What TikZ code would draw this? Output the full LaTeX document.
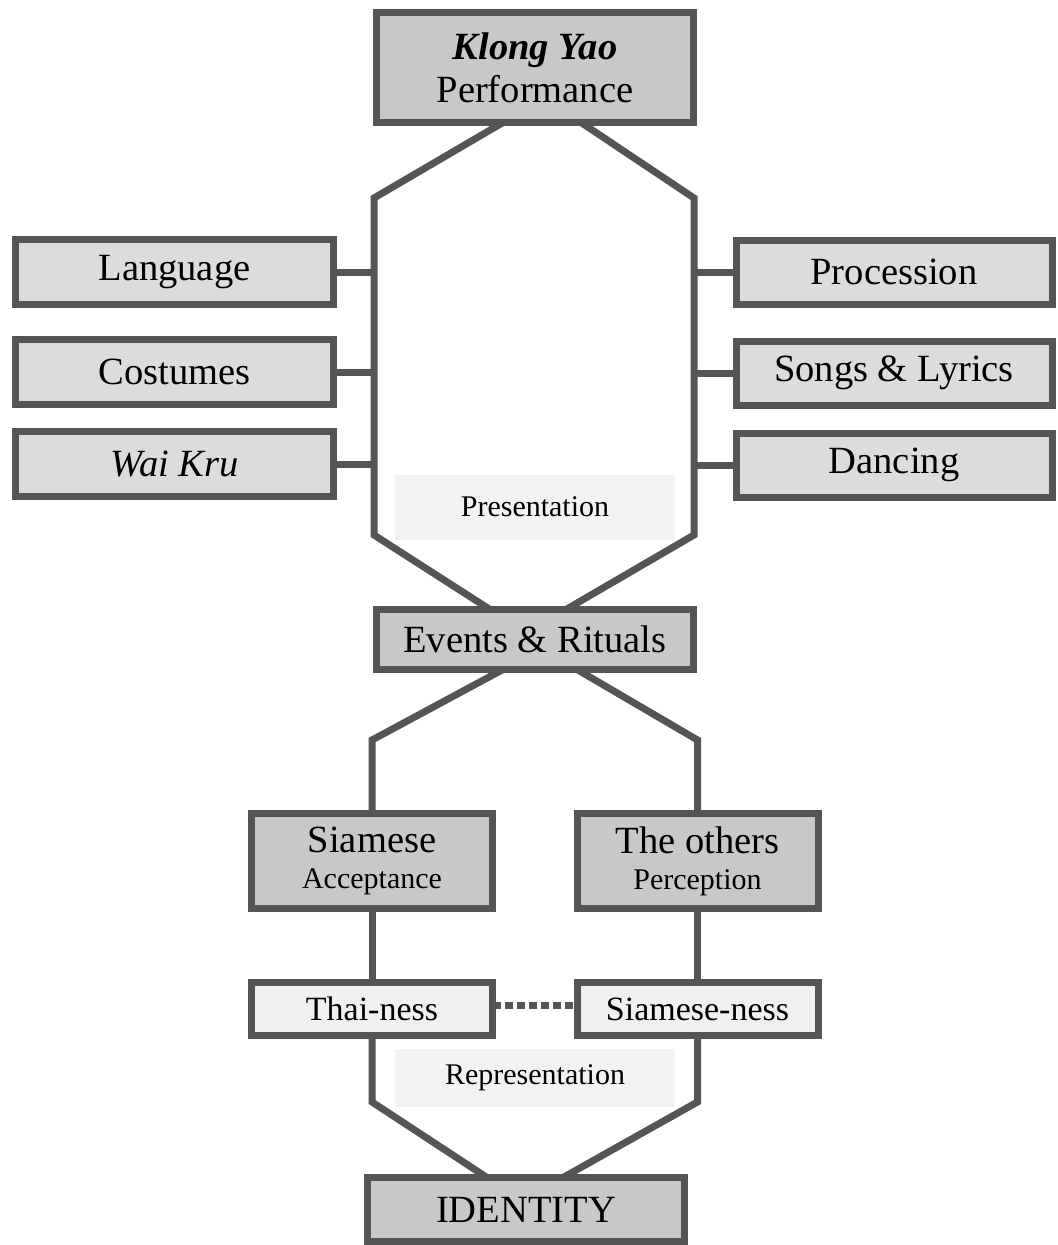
\documentclass[tikz,border=0pt]{standalone}
\usepackage{fontspec}
\setmainfont{Liberation Serif}
\usetikzlibrary{calc}
\definecolor{bord}{HTML}{555555}
\definecolor{dfill}{HTML}{C8C8C8}
\definecolor{mfill}{HTML}{DCDCDC}
\definecolor{lfill}{HTML}{F0F0F0}
\definecolor{bandc}{HTML}{F2F2F2}
\begin{document}
\begin{tikzpicture}[x=0.75pt,y=-0.75pt,
  box/.style 2 args={draw=bord, line width=5.25pt, inner sep=0pt, outer sep=0pt,
    minimum width=#1*0.75pt, minimum height=#2*0.75pt, align=center},
  dark/.style={fill=dfill},
  mid/.style={fill=mfill},
  light/.style={fill=lfill},
  big/.style={font=\fontsize{28.9}{32}\selectfont},
  med/.style={font=\fontsize{25.5}{29}\selectfont},
  small/.style={font=\fontsize{22.5}{26}\selectfont},
  band/.style 2 args={fill=bandc, inner sep=0pt, minimum width=#1*0.75pt, minimum height=#2*0.75pt, small},
  conn/.style={draw=bord, line width=5.25pt},
  dots/.style={draw=bord, line width=5.25pt, dash pattern=on 6pt off 3pt}
]
\useasboundingbox[fill=white] (0,0) rectangle (1057,1245);

% label bands
\node[band={280}{65}] (pres) at (535,507) {Presentation};
\node[band={280}{58}] (repr) at (535,1078) {Representation};

% boxes
\node[box={317}{110},dark,big] (top) at (535,67.5) {\textbf{\textit{Klong Yao}}\\Performance};

\node[box={318}{65},mid,big] (lang) at (174.5,272) {Language};
\node[box={318}{65},mid,big] (cost) at (174.5,372) {Costumes};
\node[box={318}{65},mid,big] (wai)  at (174.5,464) {\textit{Wai Kru}};

\node[box={316}{64},mid,big] (proc) at (894,272) {Procession};
\node[box={316}{64},mid,big] (song) at (894,373) {Songs \& Lyrics};
\node[box={316}{64},mid,big] (danc) at (894,465) {Dancing};

\node[box={317}{60},dark,big] (ev) at (535,639.5) {Events \& Rituals};

\node[box={241}{95},dark,big] (siam) at (372,861)
  {Siamese\\[-5pt]{\fontsize{22.5}{26}\selectfont Acceptance}};
\node[box={241}{95},dark,big] (oth) at (697.5,861)
  {The others\\[-5pt]{\fontsize{22.5}{26}\selectfont Perception}};

\node[box={241}{53},light,med] (thai) at (372,1009) {Thai-ness};
\node[box={241}{53},light,med] (sness) at (697.5,1009) {Siamese-ness};

\node[box={317}{64},dark,big] (id) at (526,1209.5) {IDENTITY};

% hexagon (presentation)
\coordinate (h1) at (374,198);
\coordinate (h2) at (694,198);
\coordinate (h3) at (374,535);
\coordinate (h4) at (694,535);
\draw[conn] ($(top.south)+(-32,0)$) -- (h1) -- (h3) -- ($(ev.north)+(-45,0)$);
\draw[conn] ($(top.south)+(46,0)$) -- (h2) -- (h4) -- ($(ev.north)+(31,0)$);

% side connectors
\draw[conn] (lang.east) -- (lang.east -| h1);
\draw[conn] (cost.east) -- (cost.east -| h1);
\draw[conn] (wai.east)  -- (wai.east -| h1);
\draw[conn] (proc.west) -- (proc.west -| h2);
\draw[conn] (song.west) -- (song.west -| h2);
\draw[conn] (danc.west) -- (danc.west -| h2);

% events to siamese / others
\coordinate (e1) at (372,740);
\coordinate (e2) at (697.5,740);
\draw[conn] ($(ev.south)+(-32,0)$) -- (e1) -- (siam.north);
\draw[conn] ($(ev.south)+(42,0)$) -- (e2) -- (oth.north);

\draw[conn] (siam.south) -- (thai.north);
\draw[conn] (oth.south) -- (sness.north);
\draw[dots] ($(thai.east)+(0,-4)$) -- ($(sness.west)+(0,-4)$);

% representation hexagon bottom
\coordinate (r1) at (372,1102);
\coordinate (r2) at (697.5,1102);
\draw[conn] (thai.south) -- (r1) -- ($(id.north)+(-39,0)$);
\draw[conn] (sness.south) -- (r2) -- ($(id.north)+(37,0)$);
\end{tikzpicture}
\end{document}
